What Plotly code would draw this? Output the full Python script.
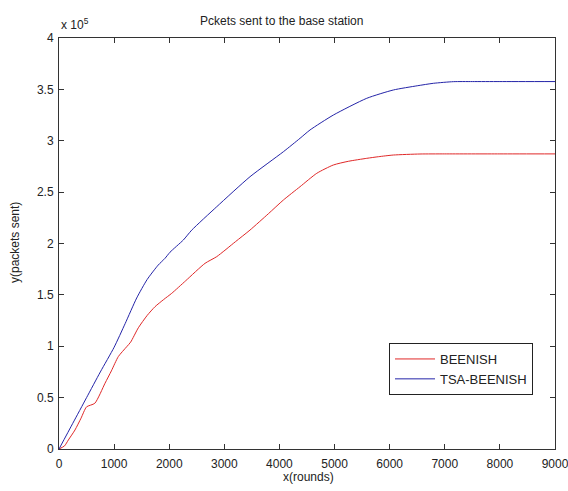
import plotly.graph_objects as go

# ---- data (y in units of 10^5 packets) ----
beenish_x = [0, 100, 170, 290, 400, 500, 650, 835, 950, 1077, 1228, 1300, 1440, 1600, 1742,
             1900, 2045, 2300, 2650, 2862, 3200, 3466, 3800, 4071, 4374, 4677, 4978,
             5250, 5584, 5800, 6067, 6550, 7000, 8000, 9000]
beenish_y = [0, 0.03, 0.088, 0.185, 0.30, 0.41, 0.445, 0.64, 0.76, 0.90, 0.995, 1.04, 1.18,
             1.30, 1.385, 1.455, 1.515, 1.638, 1.807, 1.872, 2.017, 2.131, 2.29, 2.423,
             2.553, 2.683, 2.764, 2.80, 2.829, 2.845, 2.861, 2.871, 2.872, 2.872, 2.872]

tsa_x = [0, 250, 500, 750, 1000, 1200, 1410, 1600, 1800, 1924, 2014, 2256, 2408, 2862,
         3466, 4071, 4374, 4555, 4978, 5584, 6067, 6500, 6793, 7156, 7500, 8000, 9000]
tsa_y = [0, 0.25, 0.50, 0.75, 0.99, 1.22, 1.47, 1.65, 1.79, 1.856, 1.915, 2.034, 2.13, 2.358,
         2.65, 2.893, 3.024, 3.105, 3.25, 3.413, 3.494, 3.535, 3.559, 3.575, 3.576, 3.576, 3.576]

x_ticks = [0, 1000, 2000, 3000, 4000, 5000, 6000, 7000, 8000, 9000]
y_ticks = [0, 0.5, 1, 1.5, 2, 2.5, 3, 3.5, 4]

title_text = "Pckets sent to the base station"
x_title = "x(rounds)"
y_title = "y(packets sent)"

# ---- layout geometry (pixels) ----
W, H = 568, 491
L, R, T, B = 59, 555, 38, 449
pw, ph = R - L, B - T


def px(xp):
    return (xp - L) / pw


def py(yp):
    return (B - yp) / ph


FONT = "Liberation Sans, Arial, sans-serif"

fig = go.Figure()
fig.add_trace(go.Scatter(x=beenish_x, y=beenish_y, mode="lines", name="BEENISH",
                         line=dict(color="#e02828", width=1, shape="spline", smoothing=0.6)))
fig.add_trace(go.Scatter(x=tsa_x, y=tsa_y, mode="lines", name="TSA-BEENISH",
                         line=dict(color="#2424a8", width=1, shape="spline", smoothing=0.6)))

axis_common = dict(showgrid=False, zeroline=False, showline=True, linecolor="#333333",
                   linewidth=1, mirror="ticks", ticks="inside", ticklen=5,
                   tickcolor="#333333", tickwidth=1, ticklabeloverflow="allow",
                   automargin=False,
                   tickfont=dict(family=FONT, size=12, color="#222222"))

fig.update_layout(
    width=W, height=H,
    margin=dict(l=L, r=W - R, t=T, b=H - B, pad=0, autoexpand=False),
    paper_bgcolor="white", plot_bgcolor="white",
    font=dict(family=FONT, size=12, color="#222222"),
    xaxis=dict(range=[0, 9000], tickvals=x_ticks, ticktext=[str(v) for v in x_ticks],
               ticklabelstandoff=4, **axis_common),
    yaxis=dict(range=[0, 4], tickvals=y_ticks, ticktext=[f"{v:g}" for v in y_ticks],
               ticklabelstandoff=2, **axis_common),
    showlegend=True,
    legend=dict(x=px(533), y=py(343), xanchor="right", yanchor="top",
                bgcolor="white", bordercolor="#222222", borderwidth=1,
                font=dict(family=FONT, size=13, color="#222222"),
                tracegroupgap=0, itemwidth=40),
)

fig.add_annotation(text=title_text, xref="paper", yref="paper", x=px(281), y=py(21.5),
                   xanchor="center", yanchor="middle", showarrow=False,
                   font=dict(family=FONT, size=12, color="#222222"))
fig.add_annotation(text=x_title, xref="paper", yref="paper", x=px(308), y=py(477),
                   xanchor="center", yanchor="middle", showarrow=False,
                   font=dict(family=FONT, size=12, color="#222222"))
fig.add_annotation(text=y_title, xref="paper", yref="paper", x=px(15), y=py(243),
                   xanchor="center", yanchor="middle", showarrow=False, textangle=-90,
                   font=dict(family=FONT, size=12, color="#222222"))
fig.add_annotation(text="x 10<sup>5</sup>", xref="paper", yref="paper", x=px(59), y=py(34),
                   xanchor="left", yanchor="bottom", showarrow=False,
                   font=dict(family=FONT, size=12, color="#222222"))

fig.write_html("out.html")
